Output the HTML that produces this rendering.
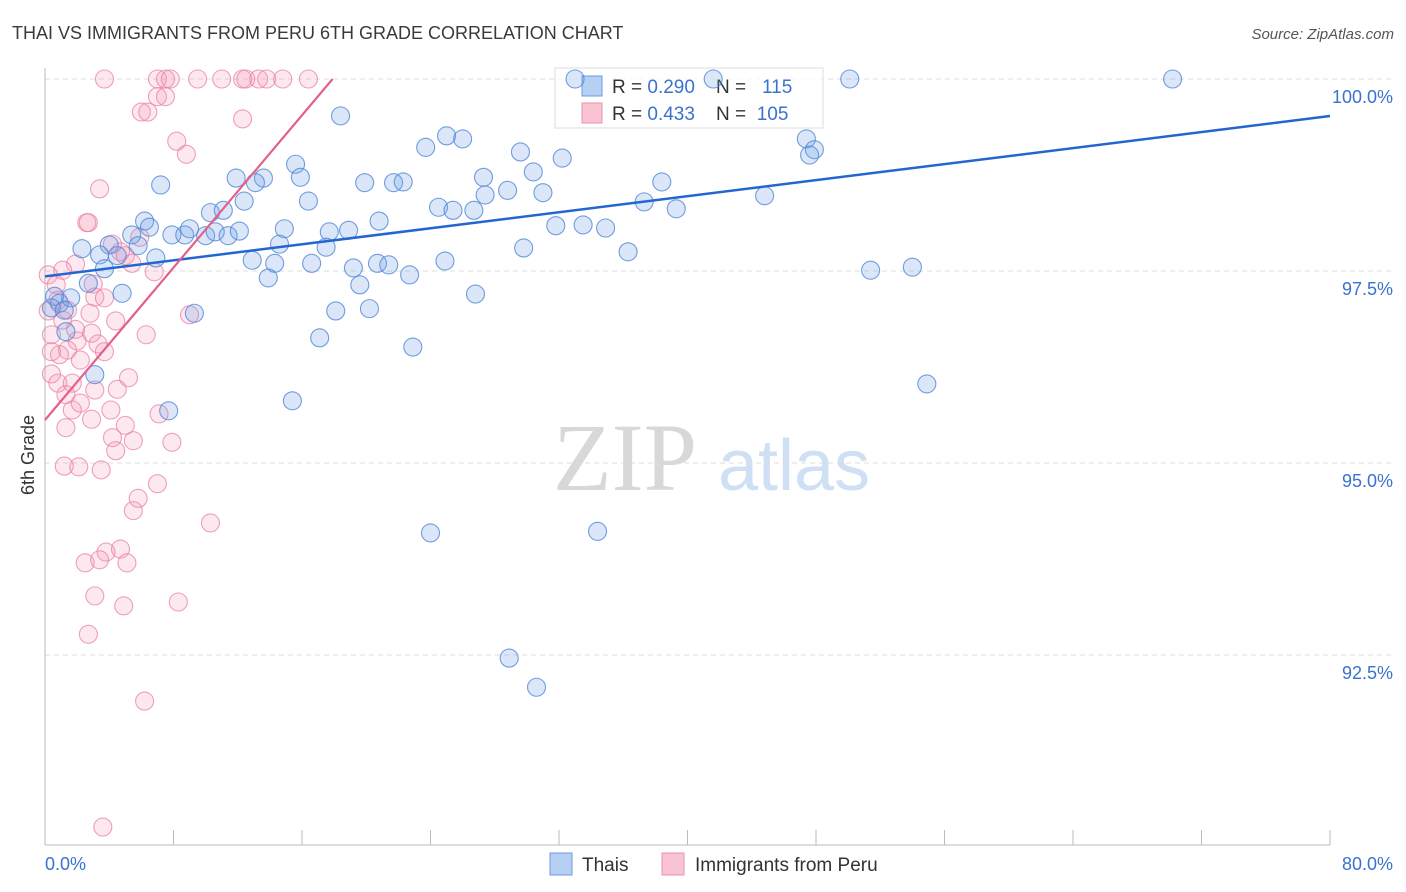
<!DOCTYPE html>
<html><head><meta charset="utf-8"><style>
body{margin:0;background:#fff;font-family:"Liberation Sans",sans-serif;}
svg{display:block}
</style></head><body>
<svg id="chart" width="1406" height="892">
<text x="12" y="39" font-size="18" fill="#3a3a3a">THAI VS IMMIGRANTS FROM PERU 6TH GRADE CORRELATION CHART</text>
<text x="1394" y="39" font-size="15" fill="#555" text-anchor="end" font-style="italic">Source: ZipAtlas.com</text>
<g><text x="553" y="490" font-size="96" fill="#d8d8d8" font-family="Liberation Serif">ZIP</text><text x="718" y="490" font-size="72" fill="#cfe0f5">atlas</text></g>
<text transform="translate(34,455) rotate(-90)" font-size="18" fill="#333" text-anchor="middle">6th Grade</text>
<g id="grid"></g><g id="axes"></g>
<g>
<rect x="555" y="68" width="268" height="60" fill="rgba(255,255,255,0.75)" stroke="#ddd"/>
<rect x="582" y="76" width="20" height="20" fill="#b5d0f3" stroke="#6a9be0"/>
<rect x="582" y="103" width="20" height="20" fill="#f8c3d3" stroke="#ea93ae"/>
<text x="612" y="93" font-size="19" fill="#333" xml:space="preserve">R = <tspan fill="#3a72d0">0.290</tspan>    N =   <tspan fill="#3a72d0">115</tspan></text>
<text x="612" y="120" font-size="19" fill="#333" xml:space="preserve">R = <tspan fill="#3a72d0">0.433</tspan>    N =  <tspan fill="#3a72d0">105</tspan></text>
</g>
<g id="pts"></g><g id="lines"></g>
<g>
<rect x="550" y="853" width="22" height="22" fill="#b5d0f3" stroke="#6a9be0"/>
<text x="582" y="871" font-size="19" fill="#333">Thais</text>
<rect x="662" y="853" width="22" height="22" fill="#f8c3d3" stroke="#ea93ae"/>
<text x="695" y="871" font-size="19" fill="#333">Immigrants from Peru</text>
</g>
</svg>
<script>
const yTicks=[100,97.5,95,92.5];
const yTickLabels=["100.0%","97.5%","95.0%","92.5%"];
const xTicks=[0,8,16,24,32,40,48,56,64,72,80];
const xEndLabels=["0.0%","80.0%"];
const blueX=[50.1,70.2,33.0,41.6,18.4,25.0,26.0,23.7,29.6,32.2,47.4,47.9,47.6,15.6,15.9,11.9,13.6,13.1,7.2,19.9,21.7,22.3,27.3,30.4,38.4,31.0,28.8,27.4,44.8,37.3,24.5,25.4,26.7,39.3,12.4,16.4,10.3,11.1,6.2,6.5,5.4,7.9,8.7,9.0,10.0,10.6,11.4,12.1,14.9,17.7,18.9,20.8,31.8,33.5,34.9,4.0,5.8,14.6,17.5,29.8,36.3,2.3,3.4,4.5,6.9,12.9,14.3,16.6,19.2,20.7,21.4,22.7,24.9,51.4,54.0,3.7,2.7,13.9,19.6,26.8,4.8,0.6,0.9,1.6,0.4,9.3,18.1,20.2,1.3,17.1,22.9,3.1,54.9,15.4,7.7,24.0,34.4,28.9,30.6,1.2];
const blueY=[100,100,100,100,99.52,99.26,99.22,99.11,99.05,98.97,99.22,99.08,99.01,98.89,98.72,98.71,98.71,98.65,98.62,98.65,98.65,98.66,98.72,98.79,98.66,98.52,98.55,98.49,98.48,98.40,98.33,98.29,98.29,98.31,98.41,98.41,98.26,98.29,98.15,98.07,97.97,97.97,97.97,98.05,97.96,98.01,97.96,98.02,98.05,98.01,98.03,98.15,98.09,98.10,98.06,97.84,97.83,97.85,97.81,97.80,97.75,97.79,97.71,97.70,97.67,97.64,97.60,97.60,97.54,97.60,97.58,97.45,97.63,97.51,97.55,97.53,97.34,97.41,97.32,97.20,97.21,97.17,97.08,97.15,97.02,96.95,96.98,97.01,96.71,96.63,96.51,96.15,96.03,95.81,95.68,94.09,94.11,92.46,92.08,96.99];
const pinkX=[3.7,7.0,7.5,7.8,9.5,11.0,12.3,12.5,13.3,13.8,14.8,16.4,7.0,7.5,6.0,6.4,12.3,8.2,8.8,3.4,2.6,2.7,5.9,4.7,4.2,5.0,5.4,6.8,1.9,1.1,0.2,0.7,3.0,3.1,3.7,0.2,2.8,4.4,6.3,1.1,2.9,2.0,1.4,3.3,3.7,0.9,2.2,0.4,0.4,0.8,1.7,3.1,4.5,5.2,1.3,1.7,2.2,4.1,2.9,1.3,5.0,7.1,4.2,5.5,7.9,4.4,1.2,2.1,3.5,5.8,5.5,7.0,10.3,3.8,4.7,2.5,3.4,5.1,3.1,4.9,8.3,2.7,6.2,3.6,9.0,0.4,1.9,0.8,1.4];
const pinkY=[100,100,100,100,100,100,100,100,100,100,100,100,99.77,99.77,99.57,99.57,99.48,99.19,99.02,98.57,98.13,98.13,97.94,97.75,97.85,97.70,97.60,97.49,97.59,97.51,97.45,97.32,97.33,97.16,97.15,96.98,96.95,96.85,96.67,96.86,96.69,96.59,96.47,96.55,96.45,96.41,96.34,96.45,96.16,96.04,96.04,95.95,95.96,96.11,95.89,95.69,95.78,95.69,95.57,95.46,95.49,95.64,95.33,95.29,95.27,95.16,94.96,94.95,94.91,94.54,94.38,94.73,94.22,93.84,93.88,93.70,93.74,93.70,93.27,93.14,93.19,92.77,91.90,90.26,96.93,96.67,96.74,97.12,96.99];
const blueFit=[97.43,0.0261];
const pinkFit=[95.56,0.248];

const NS="http://www.w3.org/2000/svg";
const X0=45,X1=1330,Y100=79,PX_PER=76.8;
function sx(v){return X0+(v/80)*(X1-X0);}
function sy(v){return Y100+(100-v)*PX_PER;}
function mk(tag,attrs,parent){const e=document.createElementNS(NS,tag);for(const k in attrs)e.setAttribute(k,attrs[k]);parent.appendChild(e);return e;}
const grid=document.getElementById('grid'),axes=document.getElementById('axes'),pts=document.getElementById('pts'),lines=document.getElementById('lines');
yTicks.forEach((t,i)=>{
  const l=mk('line',{x1:X0,x2:1394,y1:sy(t),y2:sy(t),stroke:'#ddd','stroke-dasharray':'5,4'},grid);
  
  
  const tx=mk('text',{x:1393,y:sy(t)+24,'font-size':18,fill:'#3a72d0','text-anchor':'end'},axes);
  tx.textContent=yTickLabels[i];
  
  
});
const ax=mk('line',{x1:X0,x2:X0,y1:68,y2:845,stroke:'#bbb'},axes);


const bx=mk('line',{x1:X0,x2:X1,y1:845,y2:845,stroke:'#bbb'},axes);


xTicks.forEach(t=>{
  const l=mk('line',{x1:sx(t),x2:sx(t),y1:830,y2:845,stroke:'#bbb'},axes);
  
  
});
const xl0=mk('text',{x:45,y:870,'font-size':18,fill:'#3a72d0'},axes);xl0.textContent=xEndLabels[0];


const xl1=mk('text',{x:1393,y:870,'font-size':18,fill:'#3a72d0','text-anchor':'end'},axes);xl1.textContent=xEndLabels[1];


pinkX.forEach((x,i)=>{
  const c=mk('circle',{cx:sx(x),cy:sy(pinkY[i]),r:9,fill:'rgba(245,150,180,0.22)',stroke:'rgba(232,130,165,0.75)','stroke-width':1.1},pts);
  
  
});
blueX.forEach((x,i)=>{
  const c=mk('circle',{cx:sx(x),cy:sy(blueY[i]),r:9,fill:'rgba(110,160,230,0.25)',stroke:'rgba(80,135,215,0.8)','stroke-width':1.1},pts);
  
  
});
const bl=mk('line',{x1:sx(0),y1:sy(blueFit[0]),x2:sx(80),y2:sy(blueFit[0]+blueFit[1]*80),stroke:'#2466d0','stroke-width':2.5},lines);


const pEnd=(100-pinkFit[0])/pinkFit[1];
const pl=mk('line',{x1:sx(0),y1:sy(pinkFit[0]),x2:sx(pEnd),y2:sy(100),stroke:'#e4608a','stroke-width':2.2},lines);


</script>
</body></html>
